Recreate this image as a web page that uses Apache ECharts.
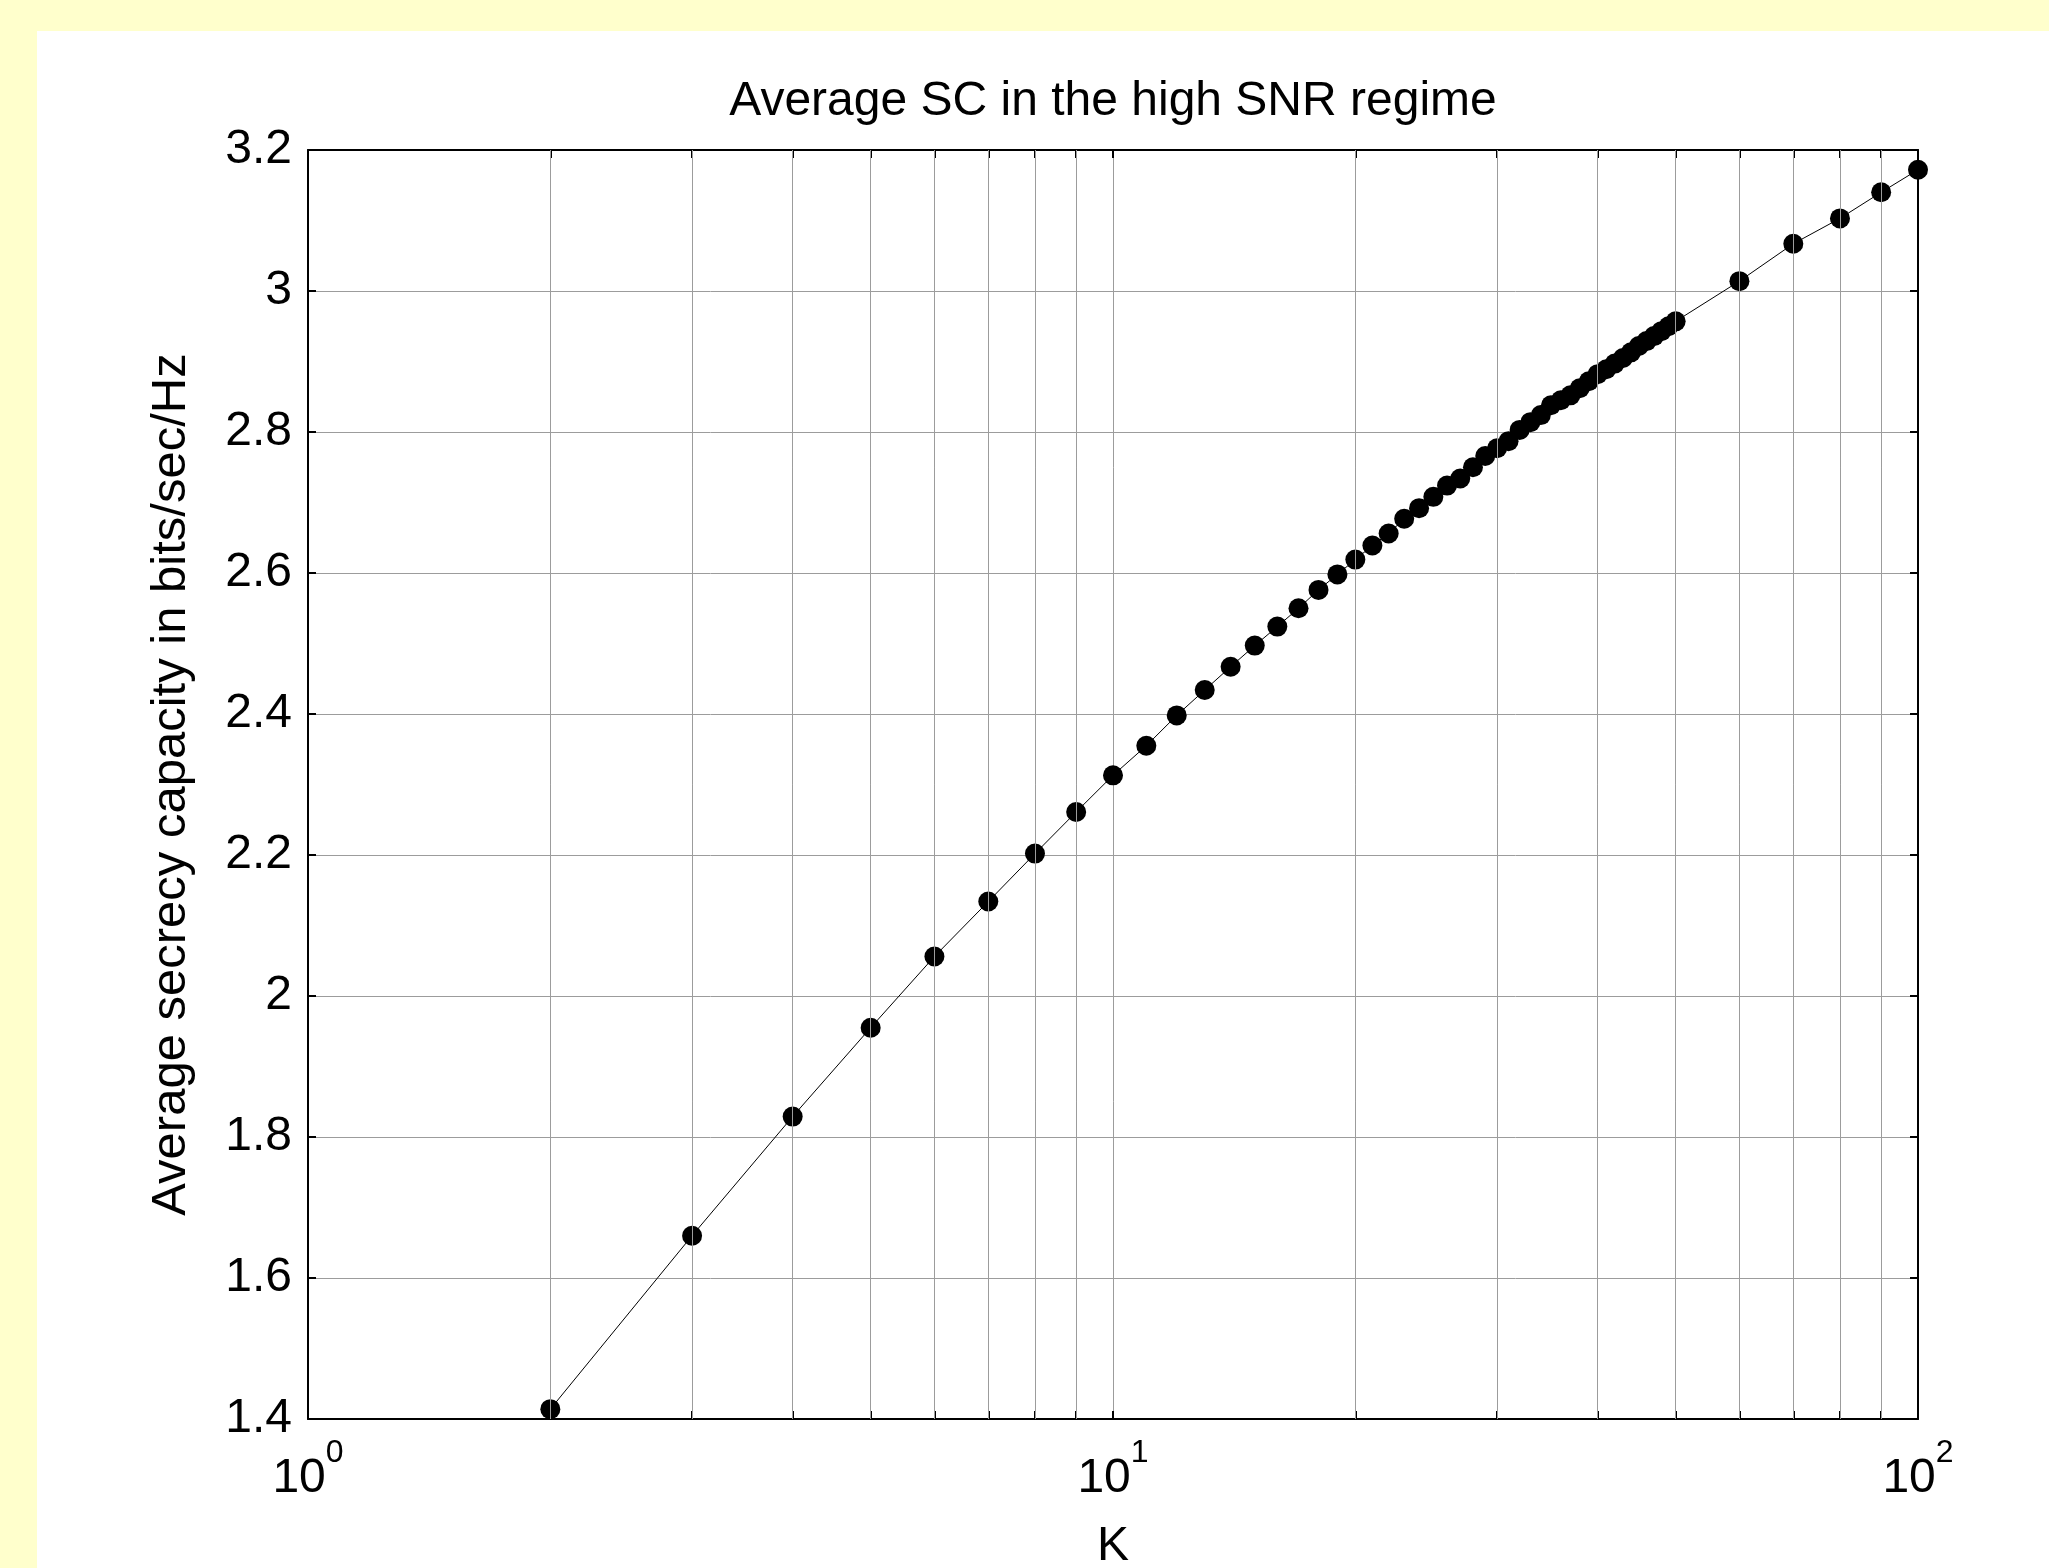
<!DOCTYPE html>
<html>
<head>
<meta charset="utf-8">
<script src="https://cdn.jsdelivr.net/npm/echarts@6/dist/echarts.min.js"></script>
<style>
  html, body { margin: 0; padding: 0; background: #ffffcc; }
  #paper { position: absolute; left: 37px; top: 31px; right: 0; bottom: 0; background: #ffffff; }
  #chart { position: absolute; left: 0; top: 0; width: 2049px; height: 1568px; }
</style>
</head>
<body>
<div id="paper"></div>
<div id="chart"></div>
<script>
// ---- data ----
const kValues = [2, 3, 4, 5, 6, 7, 8, 9, 10, 11, 12, 13, 14, 15, 16, 17, 18, 19, 20,
  21, 22, 23, 24, 25, 26, 27, 28, 29, 30, 31, 32, 33, 34, 35, 36, 37, 38, 39, 40,
  41, 42, 43, 44, 45, 46, 47, 48, 49, 50, 60, 70, 80, 90, 100];
const scValues = [1.414, 1.660, 1.829, 1.955, 2.056, 2.134, 2.202, 2.261, 2.313, 2.355,
  2.398, 2.434, 2.467, 2.497, 2.524, 2.550, 2.576, 2.598, 2.619,
  2.639, 2.656, 2.677, 2.692, 2.708, 2.724, 2.734, 2.750, 2.766, 2.777,
  2.787, 2.803, 2.814, 2.824, 2.838, 2.845, 2.852, 2.862, 2.872, 2.882,
  2.889, 2.897, 2.905, 2.913, 2.922, 2.929, 2.936, 2.943, 2.950, 2.957,
  3.014, 3.067, 3.103, 3.140, 3.172];
const minorGridK = [2, 3, 4, 5, 6, 7, 8, 9, 20, 30, 40, 50, 60, 70, 80, 90];
const xTickK = [1, 2, 3, 4, 5, 6, 7, 8, 9, 10, 20, 30, 40, 50, 60, 70, 80, 90, 100];
const yMin = 1.4, yMax = 3.2, yStep = 0.2;
const xMin = 1, xMax = 100;
const titleText = 'Average SC in the high SNR regime';
const xName = 'K';
const yName = 'Average secrecy capacity in bits/sec/Hz';

const FONT = '"Liberation Sans", Arial, sans-serif';
const gridColor = '#9c9c9c';

const chart = echarts.init(document.getElementById('chart'), null, { renderer: 'canvas' });
const points = kValues.map((k, i) => [k, scValues[i]]);

const option = {
  animation: false,
  backgroundColor: 'transparent',
  textStyle: { fontFamily: FONT, color: '#000' },
  title: {
    text: titleText,
    left: 1108,
    top: 73,
    textAlign: 'center',
    textStyle: { fontFamily: FONT, fontSize: 48, fontWeight: 'normal', color: '#000' }
  },
  grid: { left: 308, right: 131, top: 150, bottom: 149, containLabel: false, outerBoundsMode: 'none' },
  xAxis: [{
    type: 'log', logBase: 10, min: xMin, max: xMax, position: 'bottom',
    name: xName, nameLocation: 'middle', nameGap: 104,
    nameTextStyle: { fontFamily: FONT, fontSize: 48, color: '#000' },
    axisLine: { show: true, lineStyle: { color: '#000', width: 2 } },
    axisTick: { show: true, inside: true, length: 8, customValues: xTickK, lineStyle: { color: '#000', width: 2 } },
    splitLine: { show: true, lineStyle: { color: gridColor, width: 1 } },
    axisLabel: {
      margin: 18,
      formatter: function (v) {
        const e = Math.round(Math.log10(v));
        return '{b|10}{s|' + e + '}';
      },
      rich: {
        b: { fontFamily: FONT, fontSize: 48, color: '#000', lineHeight: 66, verticalAlign: 'bottom' },
        s: { fontFamily: FONT, fontSize: 32, color: '#000', lineHeight: 66, verticalAlign: 'top' }
      }
    }
  }, {
    type: 'log', logBase: 10, min: xMin, max: xMax, position: 'top',
    axisLine: { show: true, lineStyle: { color: '#000', width: 2 } },
    axisTick: { show: true, inside: true, length: 8, customValues: xTickK, lineStyle: { color: '#000', width: 2 } },
    axisLabel: { show: false },
    splitLine: { show: false }
  }],
  yAxis: [{
    type: 'value', min: yMin, max: yMax, interval: yStep, position: 'left',
    name: yName, nameLocation: 'middle', nameGap: 112, nameRotate: 90,
    nameTextStyle: { fontFamily: FONT, fontSize: 49, color: '#000' },
    axisLine: { show: true, lineStyle: { color: '#000', width: 2 } },
    axisTick: { show: true, inside: true, length: 8, lineStyle: { color: '#000', width: 2 } },
    splitLine: { show: true, lineStyle: { color: gridColor, width: 1 } },
    axisLabel: {
      margin: 16, fontFamily: FONT, fontSize: 48, color: '#000',
      formatter: function (v) { return String(parseFloat(v.toFixed(1))); }
    }
  }, {
    type: 'value', min: yMin, max: yMax, interval: yStep, position: 'right',
    axisLine: { show: true, lineStyle: { color: '#000', width: 2 } },
    axisTick: { show: true, inside: true, length: 8, lineStyle: { color: '#000', width: 2 } },
    axisLabel: { show: false },
    splitLine: { show: false }
  }],
  series: [{
    type: 'line',
    xAxisIndex: 0, yAxisIndex: 0,
    data: [],
    z: 1,
    silent: true,
    markLine: {
      silent: true,
      symbol: ['none', 'none'],
      label: { show: false },
      lineStyle: { color: gridColor, type: 'solid', width: 1 },
      emphasis: { disabled: true },
      data: minorGridK.map(k => ({ xAxis: k }))
    }
  }, {
    type: 'line',
    xAxisIndex: 0, yAxisIndex: 0,
    data: points,
    z: 3,
    symbol: 'circle',
    symbolSize: 20,
    showSymbol: true,
    itemStyle: { color: '#000' },
    lineStyle: { color: '#000', width: 1 }
  }]
};
chart.setOption(option);
</script>
</body>
</html>
